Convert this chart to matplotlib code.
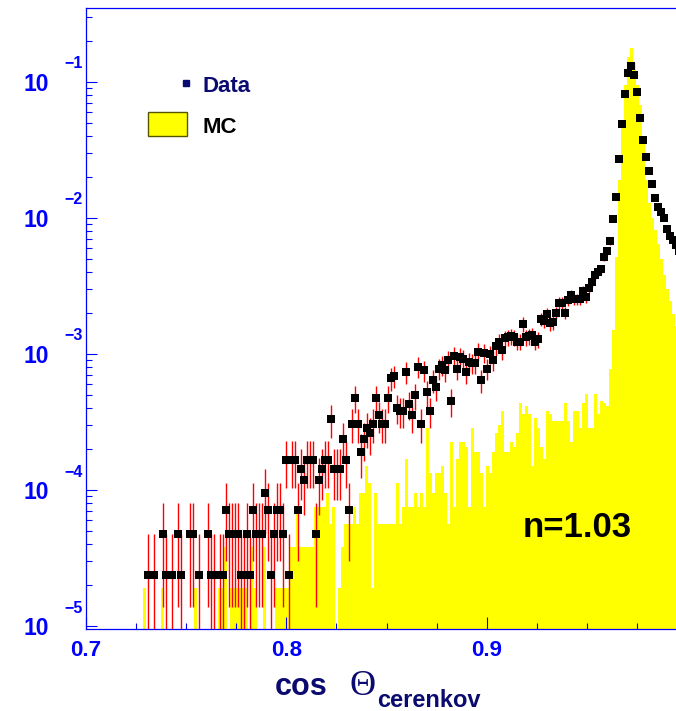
import numpy as np
import matplotlib
matplotlib.use('Agg')
import matplotlib.pyplot as plt
from matplotlib import transforms
from matplotlib.lines import Line2D
from matplotlib.patches import Rectangle
from matplotlib.ticker import MultipleLocator, LogLocator, NullFormatter

plt.rcParams['font.family'] = ['Liberation Sans', 'DejaVu Sans']
plt.rcParams['font.weight'] = 'bold'

# histogram binning: 200 bins on [0.7, 1.0]
x_lo, x_hi, n_bins = 0.7, 1.0, 200

# entries per bin, bins 0..199
data_counts = [
    0, 0, 0, 0, 0, 0, 0, 0, 0, 0,
    0, 0, 0, 0, 0, 0, 0, 0, 0, 0,
    1, 0, 1, 0, 0, 2, 1, 0, 1, 0,
    2, 1, 0, 0, 2, 2, 0, 1, 0, 0,
    2, 1, 1, 0, 1, 1, 3, 2, 2, 2,
    2, 1, 1, 2, 1, 3, 2, 2, 2, 4,
    3, 1, 2, 3, 3, 2, 7, 1, 7, 7,
    3, 6, 5, 7, 7, 7, 2, 5, 6, 7,
    7, 14, 6, 6, 6, 10, 7, 3, 13, 20,
    13, 8, 10, 12, 11, 13, 20, 15, 13, 13,
    20, 28, 29, 17, 16, 16, 31, 18, 15, 21,
    34, 13, 32, 22, 16, 27, 24, 33, 35, 32,
    38, 19, 41, 33, 40, 39, 31, 37, 36, 36,
    44, 27, 43, 33, 42, 38, 48, 52, 45, 55,
    56, 57, 56, 52, 52, 70, 56, 57, 58, 52,
    54, 76, 74, 83, 71, 72, 85, 100, 100, 85,
    105, 114, 107, 107, 107, 123, 110, 130, 143, 161,
    170, 177, 218, 243, 286, 415, 602, 1140, 2070, 3440,
    4890, 5560, 4750, 3540, 2305, 1580, 1178, 939, 750, 595,
    511, 469, 424, 350, 313, 290, 265, 240, 220, 200,
]
mc_counts = [
    0, 0, 0, 0, 0, 0, 0, 0, 0, 0,
    0, 0, 0, 0, 0, 0, 0, 0, 0, 1,
    0, 0, 0, 0, 0, 1, 0, 0, 0, 0,
    0, 0, 0, 0, 0, 0, 1, 0, 0, 0,
    0, 0, 0, 0, 1, 1, 2, 0, 1, 1,
    1, 1, 1, 1, 0, 2, 1, 0, 0, 2,
    0, 0, 0, 1, 1, 1, 1, 1, 2, 2,
    4, 2, 2, 2, 2, 2, 4, 4, 4, 4,
    5, 3, 4, 0, 1, 2, 3, 3, 3, 4,
    3, 5, 5, 8, 6, 1, 5, 3, 3, 3,
    3, 3, 3, 6, 3, 4, 9, 4, 4, 5,
    4, 5, 4, 15, 7, 5, 7, 7, 8, 5,
    3, 12, 4, 9, 12, 12, 11, 4, 15, 10,
    10, 7, 4, 8, 7, 10, 14, 16, 20, 10,
    10, 12, 11, 14, 23, 19, 22, 19, 8, 18,
    15, 11, 9, 20, 19, 17, 17, 17, 17, 23,
    17, 12, 20, 20, 15, 23, 27, 15, 15, 27,
    19, 24, 23, 22, 41, 80, 274, 1000, 2480, 5020,
    8110, 9400, 7250, 5020, 3580, 1870, 1000, 678, 525, 430,
    340, 265, 200, 160, 130, 105, 85, 70, 55, 45,
]
# weight of one entry (histograms normalised to unit area)
data_unit = 2.37e-5
mc_unit = 1.89e-5

x_ticks = [0.7, 0.8, 0.9, 1.0]
x_tick_labels = ['0.7', '0.8', '0.9', '']
y_decades = [-5, -4, -3, -2, -1]

W, H = 676, 711
blue = '#0000ff'
navy = '#0a0a70'

fig = plt.figure(figsize=(W / 100, H / 100), dpi=100)
ax = fig.add_axes([86 / W, (H - 629) / H, 601 / W, 621 / H])

edges = np.linspace(x_lo, x_hi, n_bins + 1)
centers = 0.5 * (edges[:-1] + edges[1:])
floor = 1e-8

# MC as filled yellow histogram
mc = np.array(mc_counts) * mc_unit
ax.stairs(np.where(mc > 0, mc, floor), edges, fill=True, baseline=floor,
          color='yellow', lw=0)

# data points with poisson errors
dc = np.array(data_counts, dtype=float)
sel = dc > 0
val = dc[sel] * data_unit
err = np.sqrt(dc[sel]) * data_unit
lower = np.maximum(val - err, floor)
ax.vlines(centers[sel], lower, val + err, colors='red', lw=1.0, zorder=3)
ax.plot(centers[sel], val, 's', color='black', ms=5.4, mew=0, zorder=4)

ax.set_yscale('log')
ax.set_xlim(x_lo, x_hi)
ax.set_ylim(10 ** -5.022, 10 ** -0.456)

ax.set_xticks(x_ticks)
ax.set_xticklabels(x_tick_labels)
ax.xaxis.set_minor_locator(MultipleLocator(0.025))
ax.tick_params(axis='x', which='major', direction='in', length=8.6, width=0.8,
               color=blue, labelcolor=blue, labelsize=16, pad=8)
ax.tick_params(axis='x', which='minor', direction='in', length=4.3, width=0.8, color=blue)

ax.yaxis.set_major_locator(LogLocator(base=10, numticks=12))
ax.yaxis.set_minor_locator(LogLocator(base=10, subs=np.arange(2, 10), numticks=12))
ax.yaxis.set_major_formatter(NullFormatter())
ax.yaxis.set_minor_formatter(NullFormatter())
ax.tick_params(axis='y', which='major', direction='in', length=8, width=0.8, color=blue)
ax.tick_params(axis='y', which='minor', direction='in', length=4.3, width=0.8, color=blue)

for side in ['left', 'bottom', 'top']:
    ax.spines[side].set_color(blue)
    ax.spines[side].set_linewidth(0.9)
ax.spines['right'].set_visible(False)

# ROOT style "10" with exponent
t_base = transforms.offset_copy(ax.get_yaxis_transform(), fig=fig, x=0, y=-2.5, units='dots')
t_exp = transforms.offset_copy(ax.get_yaxis_transform(), fig=fig, x=0, y=18, units='dots')
for d in y_decades:
    ax.text(-0.082, 10.0 ** d, '10', transform=t_base, ha='center', va='center',
            fontsize=16.5, color=blue, clip_on=False)
    ax.text(-0.0203, 10.0 ** d, '\u2212' + str(-d), transform=t_exp, ha='center',
            va='center', fontsize=11.5, color=blue, clip_on=False)

# legend
fig.add_artist(Line2D([186 / W], [1 - 83 / H], marker='s', ms=5, ls='none',
                      color=navy, transform=fig.transFigure))
fig.text(202 / W, 1 - 91.5 / H, 'Data', fontsize=16, color=navy, va='baseline')
fig.add_artist(Rectangle((147.7 / W, 1 - 135.7 / H), 39 / W, 23.4 / H,
                         transform=fig.transFigure, facecolor='yellow',
                         edgecolor='#555500', lw=1))
fig.text(202 / W, 1 - 133 / H, 'MC', fontsize=16, color='black', va='baseline')

fig.text(523 / W, 1 - 537 / H, 'n=1.03', fontsize=25, color='black', va='baseline')

# axis title
fig.text(275 / W, 1 - 695 / H, 'cos', fontsize=22, color=navy, va='baseline')
fig.text(349.5 / W, 1 - 695 / H, '\u0398', fontsize=26, color=navy, va='baseline',
         family=['Liberation Serif', 'DejaVu Serif'], fontweight='normal')
fig.text(377 / W, 1 - 707 / H, 'cerenkov', fontsize=17, color=navy, va='baseline')

fig.savefig('out.png', dpi=100)
